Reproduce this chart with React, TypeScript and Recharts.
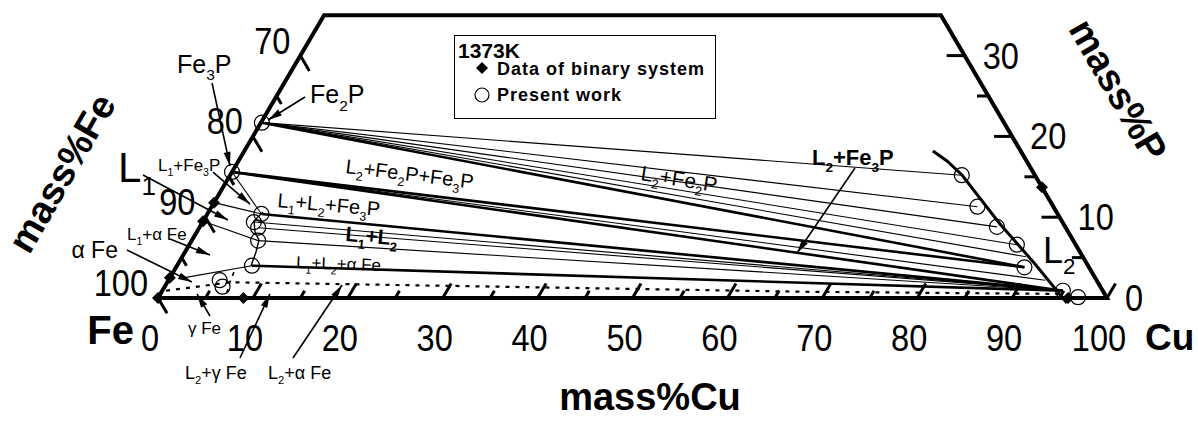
import React from 'react';
import { ComposedChart, XAxis, YAxis, Line, Scatter, Legend } from 'recharts';

const W = 1198;
const H = 423;
// ternary frame in px: Fe corner at (158, 298), 9.49 px per mass% along the base, 8.08 px per mass%P upwards
const X0 = 158;
const Y0 = 298;
const XS = 9.49;
const YS = 8.08;
const X_DOMAIN: [number, number] = [-X0 / XS, (W - X0) / XS];
const Y_DOMAIN: [number, number] = [(Y0 - H) / YS, Y0 / YS];
const FONT = '"Liberation Sans", Arial, sans-serif';

type Comp = [number, number]; // [mass%Cu, mass%P]

// axis ticks
const cuMajor = [0, 10, 20, 30, 40, 50, 60, 70, 80, 90, 100];
const cuMinor = [5, 15, 25, 35, 45, 55, 65, 75, 85, 95];
const feMajor = [100, 90, 80, 70];
const feMinor = [95, 85, 75];
const pMajor = [0, 10, 20, 30];
const pMinor = [5, 15, 25];
const pTop = 35;

// data of binary system (filled diamonds)
const binaryData: Comp[] = [[0, 11.8], [0, 9.5], [0, 2.5], [0, 0], [9.0, 0], [86.3, 13.7], [95.9, 0]];

// present work (open circles)
const fe2p: Comp = [0.1, 21.7];
const fe3p: Comp = [0, 15.6];
const l1Data: Comp[] = [[5.7, 10.4], [5.4, 9.4], [6.2, 8.7], [7.0, 7.1], [7.9, 4.0]];
const gammaData: Comp[] = [[5.4, 2.2], [6.1, 1.4]];
const l2Data: Comp[] = [[77.1, 15.2], [80.7, 11.3], [84.0, 8.8], [87.2, 6.6], [89.4, 3.8], [94.9, 0.9], [96.9, 0.1]];

// phase boundaries
const l2Curve: Comp[] = [[72.56, 18.19], [74.66, 16.96], [77.11, 15.22], [84.14, 9.16], [90.31, 4.21], [96.09, -0.62]];
const l1Curve: Comp[] = [[5.74, 10.64], [5.35, 9.53], [6.14, 8.17], [7.05, 7.18], [7.48, 5.69], [7.82, 3.96]];
const feBoundary: Comp[] = [[0.4, 0.9], [6.7, 1.95], [67.3, 0.78], [95.1, 0.5]];
const gammaLoop: Comp[] = [[6.4, 3.2], [6.6, 1.9], [7.0, 0.4]];

const [l1a, l1b, l1c, l1d, l1e] = l1Data;
const [l2a, l2b, l2c, l2d, l2e, l2f] = l2Data;
const l2Extra: Comp = [88.9, 5.1];
const fe3pFan: Comp = [92.4, 2.2];

const tieThin: [Comp, Comp][] = [
  [fe2p, l2a], [fe2p, l2b], [fe2p, l2c], [fe2p, l2d], [fe2p, l2Extra],
  [fe3p, fe3pFan], [l1b, l2f], [l1c, l2f], [l1d, l2f],
  [fe3p, l1a], [[0, 11.8], l1a], [[0, 9.5], l1d], [l1e, [1.0, 2.4]],
];
const tieThick: [Comp, Comp][] = [[fe2p, l2e], [fe3p, l2e], [fe3p, l2f], [l1a, l2f], [l1e, l2f]];

// label arrows (tail -> head)
const arrows: { from: Comp; to: Comp }[] = [
  { from: [-9.19, 15.22], to: [2.55, 9.65] },
  { from: [-2.0, 15.59], to: [3.88, 11.63] },
  { from: [-2.39, 7.3], to: [2.82, 5.32] },
  { from: [-6.24, 5.94], to: [2.59, 1.98] },
  { from: [-7.61, 26.61], to: [-0.58, 16.34] },
  { from: [3.05, 24.88], to: [0.58, 22.03] },
  { from: [65.4, 16.09], to: [64.55, 5.57] },
  { from: [6.59, -2.23], to: [3.86, 0.5] },
  { from: [12.35, -7.43], to: [11.55, 0.5] },
  { from: [17.94, -7.43], to: [18.59, 1.61] },
];

type Note = {
  at: Comp;
  text: string;
  size: number;
  bold?: boolean;
  rotate?: number;
  anchor?: 'start' | 'middle' | 'end';
  central?: boolean;
  sx?: number;
};
const notes: Note[] = [
  { at: [-4.6, -5.7], text: 'Fe', size: 40, bold: true },
  { at: [107.22, -6.44], text: 'Cu', size: 37, bold: true },
  { at: [58.77, -13.86], text: 'mass%Cu', size: 38, bold: true, anchor: 'middle' },
  { at: [-17.86, 15.47], text: 'mass%Fe', size: 38, bold: true, anchor: 'middle', rotate: -60, central: true },
  { at: [88.29, 25.74], text: 'mass%P', size: 38, bold: true, anchor: 'middle', rotate: 60, central: true },
  { at: [-11.92, 27.85], text: 'Fe_3P', size: 25 },
  { at: [3.95, 24.13], text: 'Fe_2P', size: 25 },
  { at: [-11.39, 14.36], text: 'L_1', size: 42 },
  { at: [-7.86, 15.72], text: 'L_1+Fe_3P', size: 17 },
  { at: [-6.86, 7.18], text: 'L_1+α Fe', size: 17 },
  { at: [-11.6, 4.95], text: 'α Fe', size: 23 },
  { at: [11.97, 15.47], text: 'L_2+Fe_2P+Fe_3P', size: 20, rotate: 7 },
  { at: [6.91, 11.26], text: 'L_1+L_2+Fe_3P', size: 20, rotate: 5 },
  { at: [16.17, 7.05], text: 'L_1+L_2', size: 21, bold: true, rotate: 5 },
  { at: [12.68, 3.71], text: 'L_1+L_2+α Fe', size: 17, rotate: 2 },
  { at: [43.49, 14.6], text: 'L_2+Fe_2P', size: 21, rotate: 9 },
  { at: [60.68, 16.46], text: 'L_2+Fe_3P', size: 22, bold: true },
  { at: [91.09, 4.33], text: 'L_2', size: 36 },
  { at: [5.39, -4.46], text: 'γ Fe', size: 17 },
  { at: [7.86, -10.02], text: 'L_2+γ Fe', size: 18 },
  { at: [16.6, -10.02], text: 'L_2+α Fe', size: 18 },
];

const pt = (c: Comp) => ({ x: c[0] + c[1] / 2, y: c[1] });

function RichText({ x, y, text, size, bold, rotate = 0, anchor = 'start', central, sx = 1 }: Note & { x: number; y: number }) {
  const parts = text.split(/(_.)/).filter(Boolean);
  const shift = size * 0.3;
  let down = false;
  return (
    <text
      x={0}
      y={0}
      transform={`translate(${x},${y}) rotate(${rotate}) scale(${sx},1)`}
      fontSize={size}
      fontFamily={FONT}
      fontWeight={bold ? 'bold' : 'normal'}
      textAnchor={anchor}
      dominantBaseline={central ? 'central' : undefined}
      fill="#000"
    >
      {parts.map((s, i) => {
        if (s[0] === '_') {
          const el = <tspan key={i} fontSize={size * 0.62} dy={down ? 0 : shift}>{s[1]}</tspan>;
          down = true;
          return el;
        }
        const el = <tspan key={i} dy={down ? -shift : 0}>{s}</tspan>;
        down = false;
        return el;
      })}
    </text>
  );
}

const seg = (key: string, pts: Comp[], width: number, dash?: string) => (
  <Line
    key={key}
    data={pts.map(pt)}
    dataKey="y"
    type="linear"
    stroke="#000"
    strokeWidth={width}
    strokeDasharray={dash}
    dot={false}
    activeDot={false}
    legendType="none"
    isAnimationActive={false}
  />
);

const textMark = (key: string, at: Comp, note: Note, dx = 0, dy = 0) => (
  <Scatter
    key={key}
    data={[pt(at)]}
    legendType="none"
    isAnimationActive={false}
    shape={(p: any) => <RichText {...note} x={p.cx + dx} y={p.cy + dy} />}
  />
);

const renderLegend = () => (
  <svg width={262} height={85} style={{ display: 'block' }}>
    <rect x={0.5} y={0.5} width={261} height={83} fill="#fff" stroke="#000" strokeWidth={1} />
    <text x={4} y={23} fontFamily={FONT} fontWeight="bold" fontSize={21}>1373K</text>
    <polygon points="28,27 34,33 28,39 22,33" fill="#000" />
    <text x={43} y={40} fontFamily={FONT} fontWeight="bold" fontSize={18} letterSpacing={1}>Data of binary system</text>
    <circle cx={28} cy={60} r={7} fill="none" stroke="#000" strokeWidth={1.2} />
    <text x={43} y={66} fontFamily={FONT} fontWeight="bold" fontSize={18} letterSpacing={1}>Present work</text>
  </svg>
);

export default function App() {
  const frame: Comp[] = [[0, 0], [100, 0], [100 - pTop, pTop], [0, pTop], [0, 0]];
  const cuTick = (c: number, len: number): Comp[] => [[c, 0], [c, len]];
  const feTick = (f: number, len: number): Comp[] => [[0, 100 - f], [len, 100 - f - len]];
  const pTick = (p: number, len: number): Comp[] => [[100 - p, p], [100 - p - len, p]];

  return (
    <div style={{ position: 'absolute', left: 0, top: 0, width: W, height: H, background: '#fff' }}>
      <ComposedChart width={W} height={H} margin={{ top: 0, right: 0, bottom: 0, left: 0 }}>
        <XAxis type="number" dataKey="x" domain={X_DOMAIN} hide allowDataOverflow />
        <YAxis type="number" dataKey="y" domain={Y_DOMAIN} hide allowDataOverflow />
        <Legend
          layout="horizontal"
          verticalAlign="middle"
          align="center"
          content={renderLegend}
          wrapperStyle={{ left: 454, top: 35, width: 262, height: 85 }}
        />

        {tieThin.map((t, i) => seg(`tn${i}`, t, 1.1))}
        {tieThick.map((t, i) => seg(`tk${i}`, t, 2.6))}
        {seg('l2c', l2Curve, 3)}
        {seg('l1c', l1Curve, 1.4)}
        {seg('feb', feBoundary, 2.2, '4 6')}
        {seg('gl', gammaLoop, 1.6, '4 5')}

        {seg('frame', frame, 4)}
        {cuMajor.map((c) => seg(`cM${c}`, cuTick(c, 1.8), 3))}
        {cuMinor.map((c) => seg(`cm${c}`, cuTick(c, 0.9), 3))}
        {feMajor.map((f) => seg(`fM${f}`, feTick(f, 1.9), 3))}
        {feMinor.map((f) => seg(`fm${f}`, feTick(f, 1.0), 3))}
        {pMajor.map((p) => seg(`pM${p}`, pTick(p, 1.9), 3))}
        {pMinor.map((p) => seg(`pm${p}`, pTick(p, 1.2), 3))}

        {arrows.map((a, i) => seg(`ar${i}`, [a.from, a.to], 1.6))}
        {arrows.map((a, i) => {
          const f = pt(a.from);
          const t = pt(a.to);
          const ang = (Math.atan2(-(t.y - f.y) * YS, (t.x - f.x) * XS) * 180) / Math.PI;
          return (
            <Scatter
              key={`ah${i}`}
              data={[t]}
              legendType="none"
              isAnimationActive={false}
              shape={(p: any) => (
                <polygon points="0,0 -14,-3.5 -14,3.5" fill="#000" transform={`translate(${p.cx},${p.cy}) rotate(${ang})`} />
              )}
            />
          );
        })}

        <Scatter
          data={binaryData.map(pt)}
          legendType="none"
          isAnimationActive={false}
          shape={(p: any) => <polygon points={`${p.cx},${p.cy - 6} ${p.cx + 6},${p.cy} ${p.cx},${p.cy + 6} ${p.cx - 6},${p.cy}`} fill="#000" />}
        />
        <Scatter
          data={[fe2p, fe3p, ...l1Data, ...gammaData, ...l2Data].map(pt)}
          legendType="none"
          isAnimationActive={false}
          shape={(p: any) => <circle cx={p.cx} cy={p.cy} r={7.5} fill="none" stroke="#000" strokeWidth={1.2} />}
        />

        {cuMajor.map((c) => textMark(`cl${c}`, [c, 0], { at: [c, 0], text: String(c), size: 37, anchor: 'middle', sx: 0.88 }, -8, 53))}
        {feMajor.map((f) => textMark(`fl${f}`, [0, 100 - f], { at: [0, 100 - f], text: String(f), size: 37, anchor: 'end', sx: 0.88 }, -10, -2))}
        {pMajor.map((p) => textMark(`pl${p}`, [100 - p, p], { at: [100 - p, p], text: String(p), size: 37, sx: 0.88 }, 18, 13))}
        {notes.map((n, i) => textMark(`n${i}`, n.at, n))}
      </ComposedChart>
    </div>
  );
}
